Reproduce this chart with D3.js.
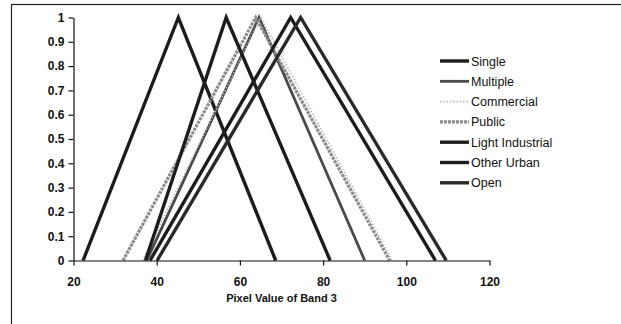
<!DOCTYPE html>
<html>
<head>
<meta charset="utf-8">
<script src="https://cdn.jsdelivr.net/npm/d3@7"></script>
<style>
  html, body { margin: 0; padding: 0; background: #fff; }
  svg { display: block; }
  text { font-family: "Liberation Sans", Arial, sans-serif; fill: #111; }
</style>
</head>
<body>
<svg id="chart" width="621" height="324"></svg>
<script>
// ---- data ----
const categories = ["Single", "Multiple", "Commercial", "Public", "Light Industrial", "Other Urban", "Open"];
// x positions of each triangular membership function: [start, peak, end]
const singleX = [22.3, 45.2, 68.6];
const multipleX = [37.6, 64.6, 90.0];
const commercialX = [36.6, 65.0, 96.6];
const publicX = [31.9, 63.8, 96.0];
const lightIndustrialX = [37.3, 56.7, 81.7];
const otherUrbanX = [38.4, 72.2, 107.0];
const openX = [40.1, 74.6, 109.6];
const membership = [0, 1, 0];
const xTicks = [20, 40, 60, 80, 100, 120];
const yTicks = [0, 0.1, 0.2, 0.3, 0.4, 0.5, 0.6, 0.7, 0.8, 0.9, 1];

const seriesX = [singleX, multipleX, commercialX, publicX, lightIndustrialX, otherUrbanX, openX];
const styles = [
  { color: "#1c1c1c", width: 3.4, dash: null },
  { color: "#4a4a4a", width: 2.8, dash: null },
  { color: "#b8b8b8", width: 1.6, dash: "1.5,1.8" },
  { color: "#8c8c8c", width: 3.2, dash: "3,1" },
  { color: "#1c1c1c", width: 3.4, dash: null },
  { color: "#1c1c1c", width: 3.4, dash: null },
  { color: "#2a2a2a", width: 3.4, dash: null }
];

const svg = d3.select("#chart");

// outer frame (top and left edges visible)
svg.append("rect")
  .attr("x", 11.5).attr("y", 4.5)
  .attr("width", 700).attr("height", 400)
  .attr("fill", "none").attr("stroke", "#222").attr("stroke-width", 1.2);

const x = d3.scaleLinear().domain([20, 120]).range([73.5, 489.5]);
const y = d3.scaleLinear().domain([0, 1]).range([260.5, 17.5]);

const line = d3.line().x(d => x(d[0])).y(d => y(d[1]));

// series
const g = svg.append("g");
seriesX.forEach((xs, i) => {
  const pts = xs.map((v, j) => [v, membership[j]]);
  const st = styles[i];
  g.append("path")
    .datum(pts)
    .attr("d", line)
    .attr("fill", "none")
    .attr("stroke", st.color)
    .attr("stroke-width", st.width)
    .attr("stroke-linejoin", "miter")
    .attr("stroke-dasharray", st.dash);
});

// axes
const xAxis = d3.axisBottom(x).tickValues(xTicks).tickSize(5).tickSizeOuter(0).tickPadding(12);
const yAxis = d3.axisLeft(y).tickValues(yTicks).tickSize(5).tickSizeOuter(0).tickPadding(4)
  .tickFormat(d => d3.format("")(+d.toFixed(1)));

const gx = svg.append("g").attr("transform", `translate(0,${y(0)})`).call(xAxis);
const gy = svg.append("g").attr("transform", `translate(${x(20)},0)`).call(yAxis);

[gx, gy].forEach(a => {
  a.selectAll("path, line").attr("stroke", "#111").attr("stroke-width", 1.2);
  a.selectAll("text").attr("font-size", 12).attr("font-weight", "bold")
    .attr("font-family", "'Liberation Sans', Arial, sans-serif").attr("fill", "#111");
});

// axis title
svg.append("text")
  .attr("x", (x(20) + x(120)) / 2).attr("y", 302)
  .attr("text-anchor", "middle")
  .attr("font-size", 11).attr("font-weight", "bold")
  .text("Pixel Value of Band 3");

// legend
const lg = svg.append("g");
categories.forEach((c, i) => {
  const ly = 61 + i * 20.3;
  const st = styles[i];
  lg.append("line")
    .attr("x1", 440).attr("x2", 469).attr("y1", ly).attr("y2", ly)
    .attr("stroke", st.color).attr("stroke-width", st.width)
    .attr("stroke-dasharray", st.dash);
  lg.append("text")
    .attr("x", 471).attr("y", ly + 4.5)
    .attr("font-size", 12.5)
    .text(c);
});
</script>
</body>
</html>
